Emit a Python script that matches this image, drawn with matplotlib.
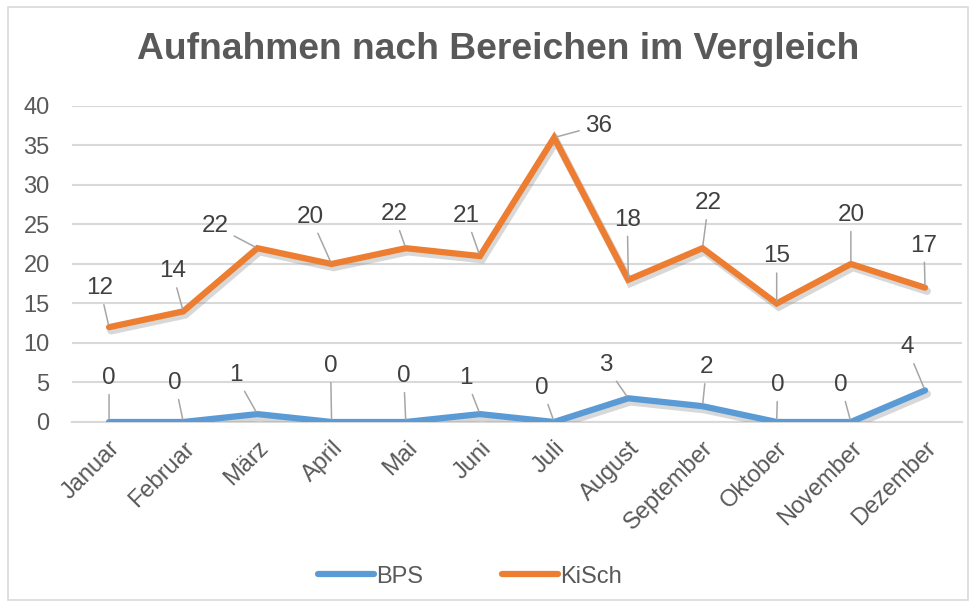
import matplotlib
matplotlib.use("Agg")
import matplotlib.pyplot as plt
import matplotlib.patheffects as pe
from matplotlib.patches import Rectangle

plt.rcParams['font.family'] = ['Liberation Sans', 'DejaVu Sans']

# -------------------- Data --------------------
months = ['Januar', 'Februar', 'März', 'April', 'Mai', 'Juni', 'Juli',
          'August', 'September', 'Oktober', 'November', 'Dezember']
bps = [0, 0, 1, 0, 0, 1, 0, 3, 2, 0, 0, 4]
kisch = [12, 14, 22, 20, 22, 21, 36, 18, 22, 15, 20, 17]
y_ticks = [0, 5, 10, 15, 20, 25, 30, 35, 40]

# label offsets (pixels) from each point
bps_off = [(0, 44), (-8, 39), (-22, 39), (-1, 56), (-2, 46), (-14, 36),
           (-12, 34), (-23, 33), (4, 39), (1, 37), (-10, 37), (-18, 43)]
kisch_off = [(-9, 39), (-11, 40), (-42, 22), (-21, 47), (-12, 34), (-14, 40),
             (44, 12), (-1, 60), (6, 45), (0, 47), (0, 49), (-1, 42)]

c_blue = '#5B9BD5'
c_orange = '#ED7D31'
c_text = '#595959'

fig = plt.figure(figsize=(9.75, 6.07), dpi=100)
ax = fig.add_axes([0.0738, 0.3048, 0.913, 0.5206])

x = list(range(len(months)))
shadow = [pe.SimpleLineShadow(offset=(1.5, -2.5), shadow_color='#808080', alpha=0.3, linewidth=5.5),
          pe.Normal()]
ax.plot(x, bps, color=c_blue, lw=4.5, solid_joinstyle='miter', solid_capstyle='round',
        label='BPS', path_effects=shadow, zorder=3)
ax.plot(x, kisch, color=c_orange, lw=4.5, solid_joinstyle='miter', solid_capstyle='round',
        label='KiSch', path_effects=shadow, zorder=3)

# data labels with leader lines
for vals, offs in ((bps, bps_off), (kisch, kisch_off)):
    for i, v in enumerate(vals):
        ax.annotate(str(v), xy=(i, v), xytext=offs[i], textcoords='offset pixels',
                    ha='center', va='center', fontsize=17.5, color='#404040',
                    arrowprops=dict(arrowstyle='-', color='#A6A6A6', lw=1.1,
                                    shrinkA=2, shrinkB=2),
                    zorder=4)

ax.set_xlim(-0.5, len(months) - 0.5)
ax.set_ylim(0, 40)
ax.set_yticks(y_ticks)
ax.set_xticks(x)
ax.set_xticklabels(months, rotation=45, ha='right', rotation_mode='anchor')
ax.grid(axis='y', color='#D9D9D9', lw=1.5)
ax.set_axisbelow(True)
for s in ['top', 'right', 'left']:
    ax.spines[s].set_visible(False)
ax.spines['bottom'].set_color('#D9D9D9')
ax.spines['bottom'].set_linewidth(1.5)
ax.tick_params(axis='both', length=0, labelsize=17, colors=c_text)
ax.tick_params(axis='y', pad=16)
ax.tick_params(axis='x', pad=11)

# title
fig.text(0.511, 0.918, 'Aufnahmen nach Bereichen im Vergleich', ha='center', va='center',
         fontsize=26.8, fontweight='bold', color=c_text)

# legend
leg = fig.legend(loc='center', bbox_to_anchor=(0.482, 0.05), ncol=2, frameon=False,
                 fontsize=17, handlelength=2.4, handletextpad=0.1, columnspacing=3.3)
for t in leg.get_texts():
    t.set_color(c_text)
for h in leg.legend_handles:
    h.set_path_effects([])

# chart border
fig.patches.append(Rectangle((0.008, 0.012), 0.985, 0.976, transform=fig.transFigure,
                             fill=False, edgecolor='#D9D9D9', lw=1.2))

plt.savefig('out.png', dpi=100)
